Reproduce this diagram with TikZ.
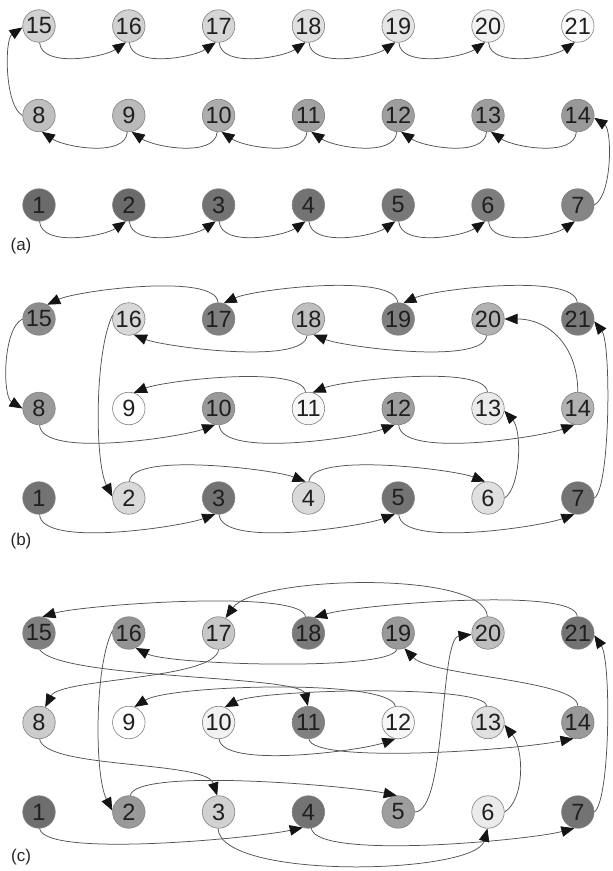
\documentclass[tikz,border=0pt]{standalone}
\usepackage{fontspec}
\setmainfont{Liberation Sans}
\usetikzlibrary{arrows.meta}
\begin{document}
\begin{tikzpicture}[x=1pt,y=1pt,
  nd/.style={circle,draw=black!50,line width=0.6pt,minimum size=32.5pt,inner sep=0pt,
    font=\fontsize{23.5}{23.5}\selectfont,text=black!88},
  arr/.style={draw=black!68,line width=0.75pt,-{Triangle[length=13pt,width=10.5pt,color=black!92]}},
  lab/.style={font=\fontsize{17}{17}\selectfont,text=black!85}]
\useasboundingbox (0,0) rectangle (613,871);
% ---------- panel (a)
\foreach \n/\g in {1/58,2/58,3/55,4/55,5/53,6/51,7/48,
                   8/25,9/27,10/32,11/37,12/38,13/38,14/40,
                   15/18,16/18,17/16,18/12,19/10,20/5,21/2}{
  \pgfmathtruncatemacro\r{(\n-0.5)/7}
  \pgfmathtruncatemacro\c{\n-1-7*\r}
  \node[nd,fill=black!\g] (a\n) at ({39+89.8*\c},{666+89.5*\r}) {\n};
}
% ---------- panel (b)
\foreach \n/\g in {1/55,2/15,3/55,4/15,5/55,6/12,7/55,
                   8/40,9/0,10/40,11/3,12/38,13/8,14/30,
                   15/45,16/15,17/50,18/25,19/50,20/30,21/52}{
  \pgfmathtruncatemacro\r{(\n-0.5)/7}
  \pgfmathtruncatemacro\c{\n-1-7*\r}
  \node[nd,fill=black!\g] (b\n) at ({39+89.8*\c},{373+89.5*\r}) {\n};
}
% ---------- panel (c)
\foreach \n/\g in {1/57,2/40,3/18,4/55,5/38,6/8,7/55,
                   8/20,9/0,10/5,11/50,12/3,13/12,14/40,
                   15/50,16/42,17/22,18/52,19/40,20/25,21/55}{
  \pgfmathtruncatemacro\r{(\n-0.5)/7}
  \pgfmathtruncatemacro\c{\n-1-7*\r}
  \node[nd,fill=black!\g] (c\n) at ({39+89.8*\c},{59+89.5*\r}) {\n};
}
\node[lab] (la) at (21,625) {(a)};
\node[lab] (lb) at (21,330) {(b)};
\node[lab] (lc) at (21,14) {(c)};
% ---------- edges (a)
\foreach \i [evaluate=\i as \j using int(\i+1)] in {1,...,6,15,16,17,18,19,20}
  \draw[arr] (a\i.-88) .. controls +(2,-26) and +(-22,-15) .. (a\j.-100);
\foreach \i [evaluate=\i as \j using int(\i-1)] in {9,...,14}
  \draw[arr] (a\i.-95) .. controls +(-2,-26) and +(22,-15) .. (a\j.-80);
\draw[arr] (a7.east) .. controls +(18,10) and +(18,-12) .. (a14.-8);
\draw[arr] (a8.west) .. controls +(-18,10) and +(-18,-12) .. (a15.185);
% ---------- edges (b)
\foreach \i/\j in {1/3,3/5,5/7,8/10,10/12,12/14}
  \draw[arr] (b\i.-88) .. controls +(2,-34) and +(-32,-12) .. (b\j.-102);
\draw[arr] (b7.east) .. controls +(16,10) and +(17,-22) .. (b21.-8);
\draw[arr] (b21.92) .. controls +(-2,30) and +(30,14) .. (b19.72);
\draw[arr] (b19.92) .. controls +(-2,30) and +(30,14) .. (b17.72);
\draw[arr] (b17.92) .. controls +(-2,30) and +(30,14) .. (b15.60);
\draw[arr] (b15.west) .. controls +(-20,-10) and +(-20,12) .. (b8.west);
\draw[arr] (b14.north) .. controls +(0,45) and +(45,0) .. (b20.east);
\draw[arr] (b20.-95) .. controls +(-2,-30) and +(30,-12) .. (b18.-72);
\draw[arr] (b18.-95) .. controls +(-2,-30) and +(30,-12) .. (b16.-72);
\draw[arr] (b16.165) .. controls +(-18,-35) and +(-18,35) .. (b2.175);
\draw[arr] (b2.88) .. controls +(2,30) and +(-30,12) .. (b4.100);
\draw[arr] (b4.88) .. controls +(2,30) and +(-30,12) .. (b6.100);
\draw[arr] (b6.east) .. controls +(16,10) and +(18,-20) .. (b13.-8);
\draw[arr] (b13.92) .. controls +(-2,28) and +(30,12) .. (b11.75);
\draw[arr] (b11.100) .. controls +(-3,28) and +(30,12) .. (b9.72);
% ---------- edges (c)
\draw[arr] (c1.-88) .. controls +(5,-30) and +(-45,-10) .. (c4.-110);
\draw[arr] (c4.-80) .. controls +(5,-32) and +(-45,-12) .. (c7.-102);
\draw[arr] (c7.east) .. controls +(16,12) and +(17,-25) .. (c21.-8);
\draw[arr] (c21.92) .. controls +(0,30) and +(45,13) .. (c18.70);
\draw[arr] (c18.100) .. controls +(-3,28) and +(40,12) .. (c15.78);
\draw[arr] (c15.-88) .. controls +(20,-30) and +(-7,31) .. (c11.92);
\draw[arr] (c11.-88) .. controls +(3,-25) and +(-60,-12) .. (c14.-105);
\draw[arr] (c14.north) .. controls +(0,26) and +(27,-28) .. (c19.-68);
\draw[arr] (c19.-95) .. controls +(-6,-22) and +(33,-17) .. (c16.-65);
\draw[arr] (c16.172) .. controls +(-18,-35) and +(-18,35) .. (c2.175);
\draw[arr] (c2.85) .. controls +(5,28) and +(-50,10) .. (c5.95);
\draw[arr] (c5.east) .. controls +(32,0) and +(-32,-4) .. (c20.185);
\draw[arr] (c20.92) .. controls +(-3,47) and +(30,42) .. (c17.65);
\draw[arr] (c17.-90) .. controls +(-3,-30) and +(15,29) .. (c8.68);
\draw[arr] (c8.-88) .. controls +(5,-30) and +(-11,35) .. (c3.95);
\draw[arr] (c3.-92) .. controls +(3,-52) and +(-12,-46) .. (c6.-92);
\draw[arr] (c6.east) .. controls +(20,12) and +(20,-25) .. (c13.-8);
\draw[arr] (c13.95) .. controls +(0,22) and +(35,18) .. (c10.68);
\draw[arr] (c10.-88) .. controls +(3,-30) and +(-35,-12) .. (c12.-100);
\draw[arr] (c12.100) .. controls +(-5,28) and +(35,22) .. (c9.70);
\end{tikzpicture}
\end{document}
